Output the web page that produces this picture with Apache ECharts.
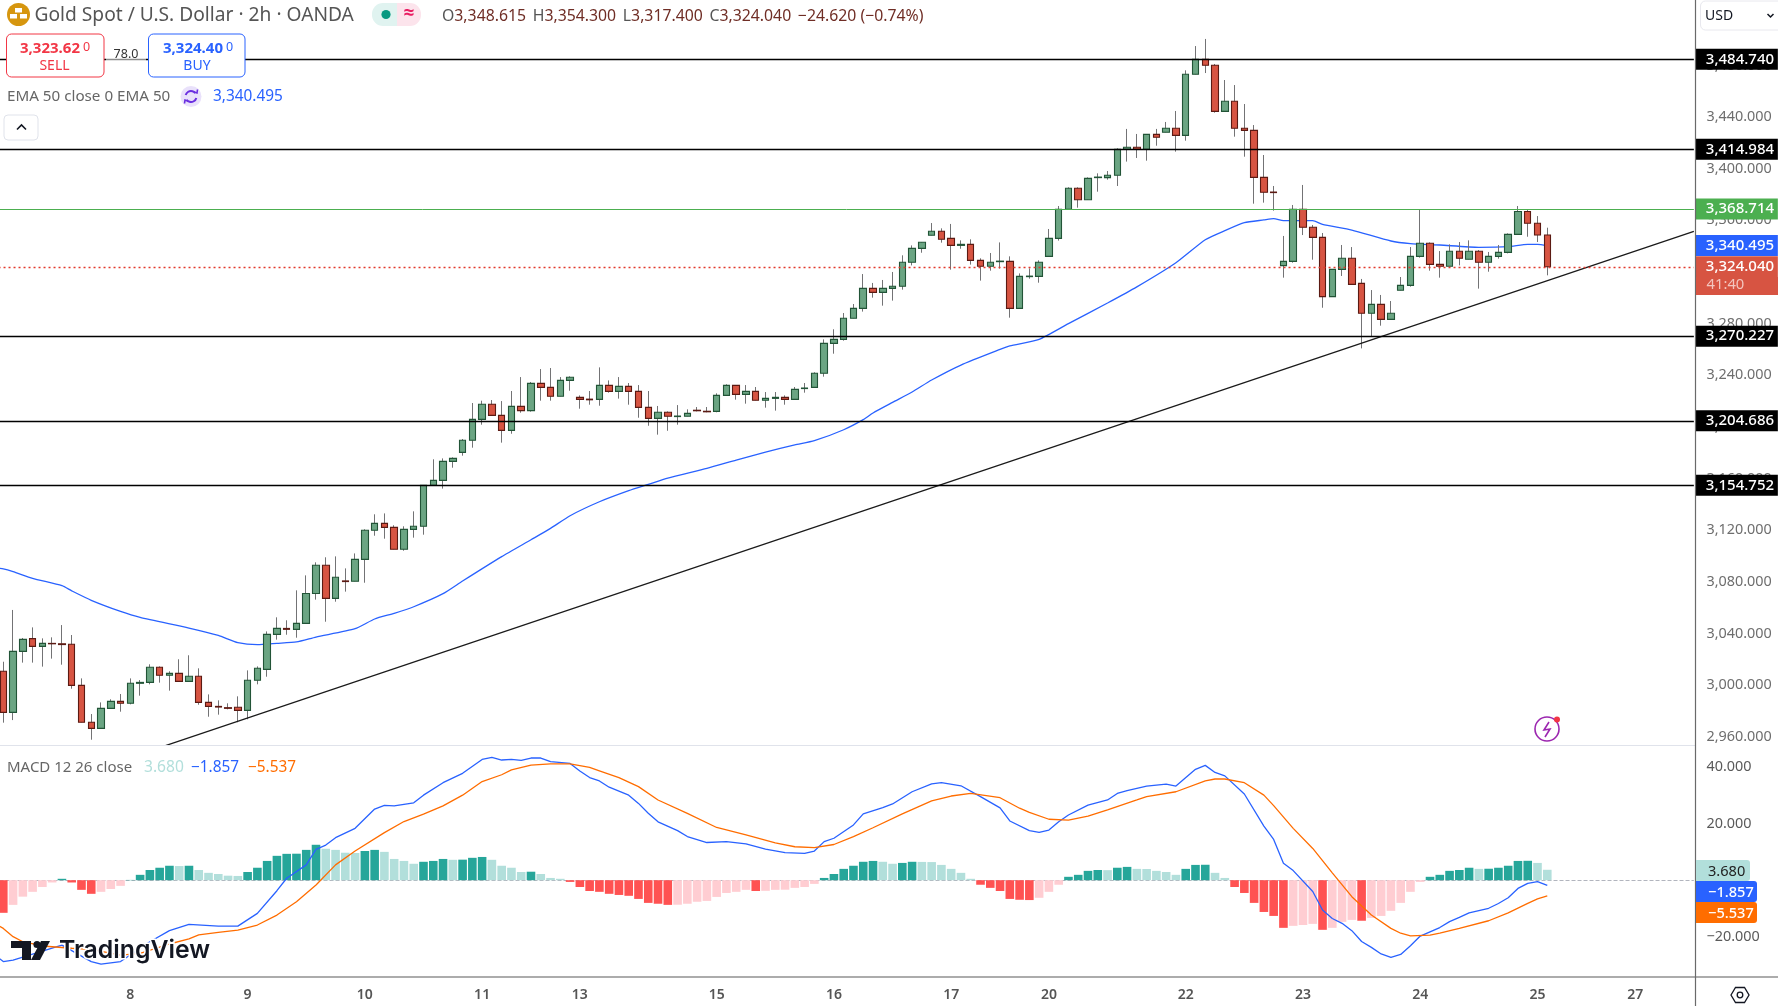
<!DOCTYPE html>
<html><head><meta charset="utf-8">
<style>html,body{margin:0;padding:0;background:#fff;overflow:hidden}#c{width:1778px;height:1006px}</style>
<script src="https://cdn.jsdelivr.net/npm/echarts@6/dist/echarts.min.js"></script>
</head><body><div id="c"></div>
<script>
const opens=[3010.7,2978.9,3026.1,3036,3030,3032.3,3032,3031.6,2999.8,2971.2,
2966.5,2982,2987.4,2985.9,3001.4,3002.1,3013.8,3007.6,3009.1,3002.9,
3006.8,2986.6,2983.5,2982.5,2982.8,2980.4,3003.7,3012.2,3039.3,3043.9,
3043.2,3047.8,3071,3092.8,3067.2,3080.7,3080.4,3097.4,3119.9,3125.3,
3122.2,3105.2,3120.6,3123,3154.7,3158.6,3173.3,3180.3,3189.6,3205.8,
3217.5,3208.9,3197.3,3215.9,3212.6,3233.7,3230.6,3223.7,3236,3222.9,
3221.5,3221.3,3232.2,3227.5,3231.4,3227.5,3215.1,3206.6,3211.3,3208,
3208.2,3212.9,3212.1,3212,3224.4,3232.2,3225.2,3227.5,3220.6,3222.1,
3222.9,3221.3,3229.7,3230.6,3241.5,3264.7,3267.8,3284.1,3291.8,3307.3,
3304.2,3307.3,3308.9,3327.5,3338.3,3348.4,3351.5,3346,3340.6,3341.4,
3329,3324.4,3328,3328.2,3291.8,3316.4,3316.6,3332.1,3346,3368.5,
3384.8,3376,3393.1,3393.1,3394.9,3415,3416.6,3415,3426.6,3428.2,
3431.3,3425.8,3473.1,3484.7,3480.1,3444.4,3452.2,3431.3,3429.7,3393.3,
3381.9,3324.9,3328.2,3368.5,3354.6,3346.8,3300.9,3322,3330.6,3311.2,
3288,3294.9,3283.3,3305.8,3309.6,3332.1,3342.2,3325.9,3324.4,3336,
3329.8,3336,3327.5,3332.1,3335.2,3349.1,3366.9,3357.7,3348.615];
const highs=[3018.1,3058.2,3036.5,3044.7,3036.2,3037,3046.5,3038.8,3005.2,2977.6,
2986.6,2989,2993.1,3005.2,3003.9,3016.1,3014.5,3010.7,3020,3023.1,
3013,2992.8,2988.2,2985.9,2991.3,3011.4,3014.5,3041.6,3052.5,3050.2,
3073.4,3085,3095.1,3099,3099.7,3090.4,3102,3120.7,3132.3,3133,
3123.8,3123,3134.6,3154.7,3174.9,3175.6,3176.4,3190.6,3218.5,3220.3,
3220.8,3220,3227.8,3238.6,3234.8,3244.8,3245.6,3238.6,3239.2,3224.4,
3227.8,3246.1,3236,3238.6,3234,3232.4,3227.8,3216.2,3212,3216.9,
3213.6,3215.4,3215.4,3226,3233,3232.2,3232.4,3230.9,3227,3227,
3224.4,3230.9,3234,3242.3,3267.8,3275.6,3288.2,3295.2,3318.4,3311.5,
3313.8,3320,3332.9,3340.6,3343,3357.9,3353.8,3357.2,3344.5,3345.3,
3330.6,3334.7,3342.9,3332.1,3318.9,3322.8,3329,3353.3,3371.1,3385.6,
3385.6,3393.3,3396.4,3398.2,3415.8,3430.8,3426.9,3426.6,3430.8,3436.2,
3444.7,3476.2,3495,3500.5,3481.1,3468.7,3464.8,3450.1,3433.8,3410.6,
3386.6,3347.9,3371.9,3387.4,3356.4,3350.2,3322,3340.9,3339.3,3314.6,
3306,3302.2,3297.5,3316.1,3339.3,3368.5,3342.9,3336.2,3341.4,3343.2,
3344.5,3337,3335.5,3340.9,3349.9,3371.1,3368,3363.3,3354.3];
const lows=[2970.9,2972.9,3017.4,3017.4,3014.3,3020.5,3015.8,2997.2,2971.2,2957.7,
2966.5,2982,2979.4,2985.1,2991.8,3000.6,3001.9,2995.7,3002.9,3002.9,
2984.8,2975.5,2977.1,2981.2,2971.2,2973.5,3000.6,3006.5,3035.2,3039,
3036.7,3047.8,3066.2,3049.1,3064.6,3072.4,3080.4,3079.3,3115.7,3113.4,
3105.2,3104.1,3114.2,3116.5,3154.7,3152.2,3168.4,3177.7,3183.9,3201.7,
3208.9,3187.8,3194.7,3211,3211.8,3220.3,3220.3,3223.7,3228,3214.1,
3217.2,3216.4,3226.5,3221.9,3217.2,3207.1,3200.9,3194,3197,3201.7,
3208.2,3212,3211.3,3211.3,3224.4,3221.1,3218,3220.6,3214.9,3212.6,
3217.2,3221.3,3226.5,3230.6,3238.9,3256.7,3266.8,3284.1,3289.3,3300.1,
3293.9,3297.8,3306.3,3325.1,3334.9,3348.4,3342.7,3321.8,3338,3325.7,
3313.3,3321,3322.6,3284.6,3291.8,3314.8,3311.7,3332.1,3344.3,3368.5,
3369.8,3376,3382.2,3391.5,3386.6,3405.5,3408.3,3406.2,3417.8,3428.2,
3413.2,3421.7,3473.1,3474.1,3443.4,3444.4,3424.8,3409.3,3372.9,3373.7,
3367.5,3315.6,3327.2,3348.6,3329.5,3292.3,3300.9,3316.9,3310.4,3260.8,
3269.9,3278.4,3283.3,3305.8,3308.6,3331.1,3321,3315.6,3324.4,3325.1,
3329.8,3307.1,3320.2,3330.3,3334.4,3349.1,3347.3,3343.2,3317.4];
const closes=[2978.9,3026.1,3035.4,3030,3032.3,3032,3031.4,2999.8,2971.2,2966.5,
2982,2987.4,2985.9,3001.4,3002.1,3013.8,3007.6,3009.1,3002.9,3006.8,
2986.6,2983.5,2983,2982,2980.4,3003.7,3013,3039.3,3043.9,3043.2,
3047.8,3071,3092.8,3067.2,3083.5,3080.2,3097.4,3119.9,3125.3,3122.2,
3105.2,3120.6,3123,3154.7,3158.6,3173.3,3175.6,3189.6,3205.8,3217.5,
3208.9,3197.3,3215.9,3212.6,3233.7,3230.6,3223.7,3236,3238.4,3221.3,
3221,3232.2,3227.5,3231.4,3227.5,3215.1,3206.6,3211.3,3208.2,3208.4,
3210.5,3212.5,3211.7,3224.4,3232.2,3225.2,3227.5,3220.6,3222.1,3222.9,
3221.3,3229.1,3230.1,3241.5,3264.7,3267.8,3284.1,3291.8,3307.3,3304.2,
3307.3,3308.9,3327.5,3338.3,3343,3351.5,3345.3,3340.6,3341.4,3329,
3324.4,3327.5,3328.4,3291.8,3316.6,3316.8,3327.5,3346,3368.5,3384.8,
3376,3392.5,3393.5,3394.9,3415,3416.6,3415,3426.6,3424.3,3431.3,
3425.8,3473.1,3484.7,3480.1,3444.4,3452.2,3431.3,3429.7,3393.3,3381.7,
3381.5,3328.2,3368.5,3354.6,3346.8,3300.9,3322,3330.6,3310.4,3288,
3294.9,3283.3,3288,3309.6,3332.1,3342.2,3325.9,3324.4,3336,3330.6,
3336,3327.5,3332.1,3335.2,3349.1,3366.9,3357.7,3348.6,3324.04];

const emaBars=[-1,0,1,3,6,7,9,12,14,19,22,24,26,28,30,32,36,38,40,42,45,47,51,54,56,58,61,64,66,68,72,75,78,81,83,86,88,89,91,93,95,98,102,103,106,109,113,116,120,123,125,127,129,130,131,134,135,138,142,144,147,151,154,156,157,158];
const emaValues=[3091,3090,3087.9,3082.7,3077,3073,3065.7,3057.1,3052.5,3044.2,3038.5,3032.9,3031.3,3032.3,3033.4,3037.2,3043.7,3051.2,3055.6,3060.7,3070.8,3080.6,3099.5,3112.6,3121.4,3131.2,3142,3150.6,3155.5,3160.4,3167.9,3174.3,3180.5,3186,3189.3,3197.8,3205.6,3210.8,3219,3227,3236.3,3247.9,3260,3262.7,3267.8,3280,3296,3308.5,3327.2,3345,3352,3358.2,3360.3,3361.3,3359.7,3359.7,3356.9,3352.5,3344,3342,3340.9,3339.1,3339.6,3341.4,3341.4,3340.495];

const macdBars=[-1,0,1,6,9,10,12,15,17,19,22,24,26,28,29,31,32,33,34,36,38,39,40,42,43,45,47,49,50,51,52,53,54,55,56,58,59,60,61,62,64,65,66,67,69,70,72,74,76,78,80,82,83,84,85,87,88,90,91,93,95,96,98,100,102,103,105,106,107,108,109,111,113,114,115,117,119,120,122,123,124,125,127,129,130,131,132,134,135,136,137,138,139,140,141,142,143,144,145,146,147,148,149,150,152,153,154,155,156,157,158];
const macdValues=[-26,-28.7,-28.2,-22.9,-28.7,-29.6,-28.7,-21.7,-17.8,-15.6,-16.2,-16.2,-11.7,-3.7,0.7,5.4,10.9,12.4,15,18.3,25.1,26.4,26.2,27.3,30,34.4,37.7,42.6,43.3,42.4,42.6,42.3,43.1,43.1,41.8,41.2,38.5,36.2,35,32.8,30,27.1,23.6,20.6,17.5,15.4,13.3,13.6,12.8,11,9.7,9.5,10.3,13.6,14.8,19.5,23.4,25.6,26.9,31.2,34,34.4,33.3,29.5,25.5,20.9,17.5,16.9,17.7,20.6,23,26.5,28.3,30.6,31.6,33.2,33.9,33.2,39.1,40.5,38,36.8,30.4,19.1,14.4,6,3.4,-4,-10.5,-13.5,-15.2,-17.8,-21.6,-23.7,-26,-27.2,-26.2,-23.1,-19.7,-18.2,-16.7,-14.6,-13.1,-11.5,-9.9,-8.2,-6.2,-2.9,-1.1,-0.5,-1.857];

const signalBars=[-1,0,1,2,4,7,9,12,14,17,19,20,22,24,26,28,30,32,34,36,39,41,43,45,47,49,51,52,54,56,58,60,61,63,65,67,70,73,76,79,81,83,85,87,89,92,95,97,99,102,104,105,107,109,111,113,116,117,120,123,124,125,127,129,130,132,134,136,138,140,142,143,144,146,147,149,152,154,156,157,158];
const signalValues=[-15,-17,-19.9,-21.7,-23.2,-24,-24.4,-26.4,-25.8,-22.5,-20.7,-19.3,-18.4,-17.6,-15.8,-12.3,-7.6,-1.7,5.4,10.3,16.8,20.7,23.3,26.2,30,34.8,37.2,38.9,40.6,41,41,39.8,38.6,36.2,33,28.3,23.6,18.6,16,13.2,11.8,11.5,12.6,15.4,18.5,23.4,28,29.7,30.6,29.1,25.4,23.9,21.5,21.2,22.6,24.8,28.3,29.5,31.2,35,35.7,35.7,34.4,30,26.3,18.3,11.2,2.6,-5.8,-12.3,-17,-18.7,-19.6,-19.4,-18.7,-17,-14.3,-11.5,-8.2,-6.6,-5.537];

const histValues=[-11.5,-8.7,-5.8,-4.1,-2.4,-0.8,0.5,-0.8,-3.4,-4.8,
-4.1,-3.1,-2,0.1,1.9,3.6,4.4,5.1,5,5.1,
3.6,2.6,2.2,1.6,1.5,2.9,4.4,6.8,8.6,9.3,
9.35,10.7,12.5,11.1,10.7,9.7,9.6,10.3,10.7,10,
7.5,6.8,5.8,6.5,6.8,7.5,7.2,7.25,7.9,8.2,
7.2,5.1,4.4,2.9,3,2.2,0.8,0.5,-0.6,-2.4,
-3.8,-4.1,-4.8,-5.2,-5.5,-6.6,-8,-8.3,-8.7,-8.65,
-8.3,-7.6,-7.3,-5.9,-4.5,-4.1,-3.4,-3.8,-3.75,-3.4,
-3.35,-2.7,-2.4,-1.3,0.8,2.2,4,5.1,6.5,6.8,
6.5,5.8,6.1,6.5,6.45,6.4,5.4,4,2.6,0.5,
-1.6,-2.7,-3.8,-6.6,-6.9,-7,-6.2,-4.1,-1.6,1.2,
1.9,3.3,3.6,3.55,4.4,4.7,4,3.95,3.3,2.9,
1.9,4,5.4,5.45,2.6,0.8,-2.4,-4.5,-8,-11.2,
-12.6,-16.8,-16.1,-15.8,-15.4,-17.5,-16.8,-14.7,-14,-14.3,
-13.3,-12.6,-10.8,-8,-4.1,-0.6,1.2,1.9,3.3,3.6,
4.4,4,4.05,4.4,5.1,6.8,6.85,6.1,3.68];

const dayLabels=['8','9','10','11','13','15','16','17','20','22','23','24','25','27'];
const dayBars=[13,25,37,49,59,73,85,97,107,121,133,145,157,167];
const priceTicks=[2960,3000,3040,3080,3120,3160,3200,3240,3280,3320,3360,3400,3440,3480];
const macdTicks=[-20,20,40];
const levelPrices=[3484.74,3414.984,3270.227,3204.686,3154.752];
const resistancePrice=3368.714, emaLast=3340.495, lastPrice=3324.04;
const trendBars=[16,173], trendPrices=[2951.6,3351.4];

const FONT='"Noto Sans","Open Sans",sans-serif';
const BAR=9.772, PAD=1, SLOTS=175;
const categories=Array.from({length:SLOTS},(_,k)=>{const n=dayBars.indexOf(k-PAD);return n>=0?dayLabels[n]:''});
const pair=(bars,vals)=>bars.map((b,k)=>[b+PAD,vals[k]]);
const fmt=v=>v.toLocaleString('en-US',{minimumFractionDigits:3,maximumFractionDigits:3}).replace('-','\u2212');
const wickData=['-'].concat(opens.map((o,i)=>[o,closes[i],lows[i],highs[i]]));
const bodyData=['-'].concat(opens.map((o,i)=>[o,closes[i],Math.min(o,closes[i]),Math.max(o,closes[i])]));
const histColor=i=>{const h=histValues[i],up=i>0&&h>histValues[i-1];return h>=0?(up?'#26a69a':'#b2dfdb'):(up?'#ffcdd2':'#ff5252')};

function pill(value,bg,text,extra){
  return Object.assign({yAxis:value,lineStyle:{color:'#000',width:1.4,type:'solid'},
    label:{show:true,position:'end',distance:2,formatter:text||fmt(value),color:'#fff',backgroundColor:bg,
      fontFamily:FONT,fontSize:15,fontWeight:500,width:72,height:19,lineHeight:19,padding:[2,0,0,10],align:'left'}},extra||{});
}
const T=(x,y,text,o)=>({type:'text',z:50,silent:true,style:Object.assign({x,y,text,fontFamily:FONT,fontSize:14,fill:'#555',verticalAlign:'middle',align:'left'},o||{})});
const R=(x,y,w,h,fill,o)=>({type:'rect',z:49,silent:true,shape:{x,y,width:w,height:h,r:(o&&o.r)||0},style:Object.assign({fill},(o&&o.style)||{})});
const L=(x1,y1,x2,y2,stroke,w)=>({type:'line',z:48,silent:true,shape:{x1,y1,x2,y2},style:{stroke,lineWidth:w||1}});
const P=(points,stroke,w)=>({type:'polyline',z:50,silent:true,shape:{points},style:{stroke,fill:null,lineWidth:w||1.5}});
const ohlcRich={l:{fill:'#555',fontFamily:FONT,fontSize:15.8},v:{fill:'#6f2d25',fontFamily:FONT,fontSize:15.8}};

const graphics=[
  L(0,745.5,1695,745.5,'#e0e3eb',1.2),
  L(0,977,1778,977,'#5a5a5a',1.2),
  L(1695.5,0,1695.5,1006,'#6a6a6a',1.2),
  // header
  {type:'circle',z:49,silent:true,shape:{cx:18.5,cy:14.5,r:11.5},style:{fill:'#d6960f'}},
  R(15,8,7,4.5,'#fff'),R(10,14,7,4.5,'#fff'),R(20,14,7,4.5,'#fff'),
  T(34.5,16,'Gold Spot / U.S. Dollar \u00b7 2h \u00b7 OANDA',{fontSize:19.2,fill:'#555'}),
  R(372,3,25,23,'#e0f3f0',{r:[11,0,0,11]}),R(397,3,24,23,'#fce4ec',{r:[0,11,11,0]}),
  {type:'circle',z:50,silent:true,shape:{cx:386,cy:14.5,r:4.6},style:{fill:'#089981'}},
  T(409,14,'\u2248',{fontSize:19,fill:'#e91e63',align:'center',fontWeight:'bold'}),
  {type:'text',z:50,silent:true,style:{x:442,y:16,verticalAlign:'middle',text:'{l|O}{v|3,348.615}  {l|H}{v|3,354.300}  {l|L}{v|3,317.400}  {l|C}{v|3,324.040}  {v|\u221224.620 (\u22120.74%)}',rich:ohlcRich}},
  // sell / buy
  R(106,55,40,7,'#fff',{style:{opacity:.55}}),
  R(6.5,34,97.5,43,'#fff',{r:5,style:{stroke:'#f23645',lineWidth:1}}),
  R(148.5,34,96.5,43,'#fff',{r:5,style:{stroke:'#2962ff',lineWidth:1}}),
  T(20,49,'3,323.62',{fontSize:15,fontWeight:'bold',fill:'#f23645'}),T(83,47.5,'0',{fontSize:12.5,fill:'#f23645'}),
  T(54.5,66,'SELL',{fontSize:14,fill:'#f23645',align:'center'}),
  T(163,49,'3,324.40',{fontSize:15,fontWeight:'bold',fill:'#2962ff'}),T(226,47.5,'0',{fontSize:12.5,fill:'#2962ff'}),
  T(197,66,'BUY',{fontSize:14,fill:'#2962ff',align:'center'}),
  T(126,54.5,'78.0',{fontSize:12.5,fill:'#333',align:'center'}),
  // EMA legend
  T(7,97,'EMA 50 close 0 EMA 50',{fontSize:15.2,fill:'#666'}),
  {type:'circle',z:49,silent:true,shape:{cx:191,cy:96.5,r:10.5},style:{fill:'#e9e1fb'}},
  {type:'arc',z:50,silent:true,shape:{cx:191,cy:96.5,r:5.5,startAngle:3.4,endAngle:5.6},style:{stroke:'#6a2fe0',fill:null,lineWidth:2}},
  {type:'arc',z:50,silent:true,shape:{cx:191,cy:96.5,r:5.5,startAngle:0.26,endAngle:2.5},style:{stroke:'#6a2fe0',fill:null,lineWidth:2}},
  P([[194,92],[197,93],[197.5,89.5]],'#6a2fe0',1.6),P([[188,101],[185,100],[184.5,103.5]],'#6a2fe0',1.6),
  T(213,97,'3,340.495',{fontSize:15.4,fill:'#2962ff'}),
  R(4,115,34,25,'#fff',{r:4,style:{stroke:'#e0e3eb',lineWidth:1}}),
  P([[17,129.5],[21.5,125],[26,129.5]],'#131722',1.6),
  // USD
  R(1700.5,1,84,29,'#fff',{r:5,style:{stroke:'#e8e8ee',lineWidth:1}}),
  T(1705,16,'USD',{fontSize:14,fill:'#131722'}),
  P([[1767.5,14],[1770.5,17],[1773.5,14]],'#131722',1.5),
  // countdown under last price
  R(1696,277,82,18,'#d75442'),
  T(1706.5,284.5,'41:40',{fontSize:14.8,fill:'#f3c6bf'}),
  // lightning icon
  {type:'circle',z:50,silent:true,shape:{cx:1547,cy:729,r:12},style:{stroke:'#9c27b0',fill:'#fff',lineWidth:1.6}},
  P([[1549,722],[1544,730],[1550,729],[1545,737]],'#9c27b0',1.6),
  {type:'circle',z:51,silent:true,shape:{cx:1557,cy:719.5,r:3},style:{fill:'#f23645'}},
  // MACD legend
  T(7,768,'MACD 12 26 close',{fontSize:15,fill:'#666'}),
  T(144,768,'3.680',{fontSize:15.6,fill:'#b2dfdb'}),
  T(191,768,'\u22121.857',{fontSize:15.4,fill:'#2962ff'}),
  T(248,768,'\u22125.537',{fontSize:15.4,fill:'#ff6d00'}),
  // MACD pills
  R(1696,860,54,21,'#b2dfdb',{r:[0,3,3,0]}),T(1708,871.5,'3.680',{fontSize:14.6,fill:'#222'}),
  R(1696,881,61,21,'#2962ff',{r:[0,3,3,0]}),T(1708,892.5,'\u22121.857',{fontSize:14.6,fill:'#fff',fontWeight:500}),
  R(1696,902,61,21,'#ff6d00',{r:[0,3,3,0]}),T(1708,913.5,'\u22125.537',{fontSize:14.6,fill:'#fff',fontWeight:500}),
  // logo
  R(11,941,20,7,'#131722'),R(22,941,9,19,'#131722'),
  {type:'circle',z:49,silent:true,shape:{cx:37,cy:944.5,r:3.6},style:{fill:'#131722'}},
  {type:'polygon',z:49,silent:true,shape:{points:[[41,941],[50,941],[40,960],[31,960]]},style:{fill:'#131722'}},
  T(59,950.5,'TradingView',{fontFamily:'Inter,"Noto Sans",sans-serif',fontSize:24.8,fontWeight:600,fill:'#131722',stroke:'#fff',lineWidth:3}),
  // settings
  {type:'polygon',z:50,silent:true,shape:{points:[[1731,995],[1735.5,987.5],[1744.5,987.5],[1749,995],[1744.5,1002.5],[1735.5,1002.5]]},style:{stroke:'#131722',fill:null,lineWidth:1.3}},
  {type:'circle',z:50,silent:true,shape:{cx:1740,cy:995,r:2.8},style:{stroke:'#131722',fill:null,lineWidth:1.3}}
];

const chart=echarts.init(document.getElementById('c'),null,{renderer:'canvas'});
chart.setOption({
  animation:false,backgroundColor:'#fff',
  grid:[{left:-6.47,top:0,width:BAR*174,height:745,outerBoundsMode:'none'},{left:-6.47,top:746,width:BAR*174,height:231,outerBoundsMode:'none'}],
  xAxis:[
    {type:'category',gridIndex:0,data:categories,boundaryGap:false,show:false},
    {type:'category',gridIndex:1,data:categories,boundaryGap:false,axisLine:{show:false},axisTick:{show:false},splitLine:{show:false},
     axisLabel:{interval:k=>categories[k]!=='',margin:11,color:'#555',fontFamily:FONT,fontSize:14,fontWeight:600,hideOverlap:false}}
  ],
  yAxis:[
    {type:'value',gridIndex:0,position:'right',offset:1.1,min:2953.6,max:3530.67,splitLine:{show:false},axisLine:{show:false},axisTick:{show:false},
     axisLabel:{customValues:priceTicks,margin:11.5,color:'#6e6e6e',fontFamily:FONT,fontSize:14.4,formatter:fmt}},
    {type:'value',gridIndex:1,position:'right',offset:1.1,min:-34.14,max:47.34,splitLine:{show:false},axisLine:{show:false},axisTick:{show:false},
     axisLabel:{customValues:macdTicks,margin:11.5,color:'#5a5a5a',fontFamily:FONT,fontSize:14.4,padding:[3,0,0,0],formatter:fmt}}
  ],
  series:[
    {type:'line',name:'EMA 50',xAxisIndex:0,yAxisIndex:0,z:2,data:pair(emaBars,emaValues),showSymbol:false,symbol:'none',smooth:0.2,lineStyle:{color:'#2962ff',width:1.3},silent:true},
    {type:'candlestick',name:'wicks',xAxisIndex:0,yAxisIndex:0,z:3,data:wickData,barWidth:1,silent:true,
     itemStyle:{color:'#737375',color0:'#737375',borderColor:'#737375',borderColor0:'#737375',borderWidth:1}},
    {type:'candlestick',name:'XAUUSD',xAxisIndex:0,yAxisIndex:0,z:4,data:bodyData,barWidth:7,silent:true,
     itemStyle:{color:'#6ba583',color0:'#d75442',borderColor:'#225437',borderColor0:'#5b1a13',borderWidth:1.1},
     markLine:{silent:true,symbol:'none',animation:false,precision:3,z:6,
       data:levelPrices.map(v=>pill(v,'#000')).concat([
         pill(resistancePrice,'#4caf50',null,{lineStyle:{color:'#4caf50',width:1,type:'solid'}}),
         pill(emaLast,'#2962ff',null,{lineStyle:{color:'rgba(0,0,0,0)',width:1,type:'solid'}}),
         pill(lastPrice,'#d75442',null,{lineStyle:{color:'#e23b2e',width:1.4,type:[2,3]}})
       ])}},
    {type:'line',name:'Trend',xAxisIndex:0,yAxisIndex:0,z:5,data:pair(trendBars,trendPrices),symbol:'none',lineStyle:{color:'#1a1a1a',width:1.3},silent:true},
    {type:'bar',name:'Histogram',xAxisIndex:1,yAxisIndex:1,z:2,barWidth:8.6,silent:true,
     data:histValues.map((v,i)=>({value:[i+PAD,v],itemStyle:{color:histColor(i)}})),
     markLine:{silent:true,symbol:'none',animation:false,z:1,label:{show:false},lineStyle:{color:'#b2b5be',type:'dashed',width:1},data:[{yAxis:0}]}},
    {type:'line',name:'MACD',xAxisIndex:1,yAxisIndex:1,z:3,data:pair(macdBars,macdValues),symbol:'none',lineStyle:{color:'#2962ff',width:1.3},silent:true},
    {type:'line',name:'Signal',xAxisIndex:1,yAxisIndex:1,z:3,data:pair(signalBars,signalValues),symbol:'none',lineStyle:{color:'#ff6d00',width:1.3},silent:true}
  ],
  graphic:graphics
});
</script></body></html>
